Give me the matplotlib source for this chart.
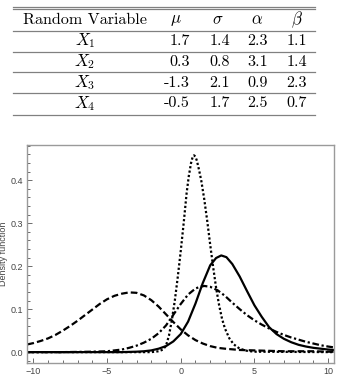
import numpy as np
import matplotlib
matplotlib.use('Agg')
import matplotlib.pyplot as plt
from matplotlib.ticker import MultipleLocator

plt.rcParams['mathtext.fontset'] = 'cm'
plt.rcParams['font.family'] = ['Liberation Sans', 'DejaVu Sans']

# table contents
row_names = [r'$X_1$', r'$X_2$', r'$X_3$', r'$X_4$']
col_names = [r'$\mu$', r'$\sigma$', r'$\alpha$', r'$\beta$']
mu = ['1.7', '0.3', '-1.3', '-0.5']
sigma = ['1.4', '0.8', '2.1', '1.7']
alpha = ['2.3', '3.1', '0.9', '2.5']
beta = ['1.1', '1.4', '2.3', '0.7']

# density curves
x_solid = [-10.4, -4, -3, -2.5, -2, -1.5, -1, -0.5, 0, 0.5, 1, 1.5, 2, 2.4, 2.75, 3.1,
           3.5, 4, 4.5, 5, 5.5, 6, 6.5, 7, 7.5, 8, 8.5, 9, 9.5, 10, 10.4]
y_solid = [0, 0, 0.001, 0.002, 0.004, 0.008, 0.014, 0.025, 0.042, 0.071, 0.113, 0.161,
           0.202, 0.219, 0.225, 0.221, 0.205, 0.176, 0.142, 0.109, 0.082, 0.058, 0.042,
           0.031, 0.023, 0.017, 0.013, 0.010, 0.008, 0.006, 0.005]

x_dot = [-10.4, -2, -1.5, -1.2, -1.0, -0.8, -0.6, -0.4, -0.2, 0, 0.2, 0.4, 0.55, 0.7,
         0.8, 0.9, 1.0, 1.1, 1.25, 1.4, 1.6, 1.8, 2.0, 2.2, 2.4, 2.6, 2.8, 3.0, 3.3, 3.6,
         4.0, 4.5, 5, 10.4]
y_dot = [0, 0, 0.002, 0.006, 0.015, 0.038, 0.075, 0.12, 0.175, 0.235, 0.30, 0.37, 0.41,
         0.44, 0.453, 0.458, 0.455, 0.445, 0.423, 0.398, 0.355, 0.305, 0.25, 0.198,
         0.150, 0.110, 0.078, 0.055, 0.032, 0.018, 0.008, 0.003, 0.001, 0]

x_dash = [-10.4, -10, -9.5, -9, -8.5, -8, -7.5, -7, -6.5, -6, -5.5, -5, -4.5, -4, -3.5,
          -3, -2.5, -2, -1.5, -1, -0.5, 0, 0.5, 1, 1.5, 2, 2.5, 3, 4, 5, 6, 7, 8, 9,
          10, 10.4]
y_dash = [0.018, 0.021, 0.026, 0.032, 0.040, 0.050, 0.061, 0.073, 0.086, 0.099, 0.112,
          0.123, 0.131, 0.136, 0.139, 0.138, 0.132, 0.121, 0.106, 0.088, 0.070, 0.053,
          0.039, 0.028, 0.020, 0.014, 0.010, 0.008, 0.005, 0.004, 0.003, 0.002, 0.002,
          0.002, 0.001, 0.001]

x_dashdot = [-10.4, -8, -6, -5, -4.5, -4, -3.5, -3, -2.5, -2, -1.5, -1, -0.5, 0, 0.5,
             1, 1.3, 1.6, 2, 2.5, 3, 3.5, 4, 4.5, 5, 5.5, 6, 6.5, 7, 7.5, 8, 8.5, 9,
             9.5, 10, 10.4]
y_dashdot = [0, 0, 0.001, 0.002, 0.004, 0.006, 0.010, 0.015, 0.022, 0.031, 0.044, 0.062,
             0.087, 0.112, 0.134, 0.148, 0.152, 0.154, 0.152, 0.144, 0.131, 0.115, 0.100,
             0.086, 0.074, 0.064, 0.055, 0.047, 0.040, 0.034, 0.029, 0.024, 0.020, 0.016,
             0.013, 0.011]

fig = plt.figure(figsize=(3.58, 3.82), dpi=100)

# table drawn in pixel coordinates
tab = fig.add_axes([0, 0, 1, 1])
tab.set_xlim(0, 358)
tab.set_ylim(382, 0)
tab.axis('off')
rule_c = '#808080'
for yy in [6.7, 9.4, 31, 51.7, 72.3, 93.3, 115]:
    tab.plot([13, 315], [yy, yy], color=rule_c, lw=0.9)

fs = 11.6
tab.text(85, 20, 'Random Variable', family='cmr10', fontsize=fs, ha='center', va='center')
for cx, name in zip([176, 218, 257, 297], col_names):
    tab.text(cx, 20, name, fontsize=fs + 0.5, ha='center', va='center')
row_y = [41, 62, 83, 103.5]
for ry, rn, a, b, c, d in zip(row_y, row_names, mu, sigma, alpha, beta):
    tab.text(85, ry, rn, fontsize=fs + 0.5, ha='center', va='center')
    for rx, v in zip([190, 230, 268, 307], [a, b, c, d]):
        tab.text(rx, ry, v, family='cmr10', fontsize=fs, ha='right', va='center')

# density plot
ax = fig.add_axes([27 / 358, 1 - 363.3 / 382, 307 / 358, 218.3 / 382])
ax.plot(x_solid, y_solid, color='black', lw=1.6, ls='-')
ax.plot(x_dot, y_dot, color='black', lw=1.6, ls=(0, (1, 1.0)))
ax.plot(x_dash, y_dash, color='black', lw=1.6, ls=(0, (3.0, 1.4)))
ax.plot(x_dashdot, y_dashdot, color='black', lw=1.6, ls=(0, (3.0, 1.2, 1, 1.2)))

ax.set_xlim(-10.43, 10.4)
ax.set_ylim(-0.026, 0.482)
ax.xaxis.set_major_locator(MultipleLocator(5))
ax.xaxis.set_minor_locator(MultipleLocator(1))
ax.yaxis.set_major_locator(MultipleLocator(0.1))
ax.yaxis.set_minor_locator(MultipleLocator(0.02))
ax.yaxis.set_major_formatter(matplotlib.ticker.FormatStrFormatter('%.1f'))

frame_c = '#9a9a9a'
for s in ax.spines.values():
    s.set_color(frame_c)
    s.set_linewidth(1.0)
ax.tick_params(which='both', direction='in', color='#555555', labelcolor='#444444',
               labelsize=6.5, top=False, right=False, width=0.6)
ax.tick_params(which='major', length=3.5, pad=3)
ax.tick_params(which='minor', length=2)
ax.set_ylabel('Density function', fontsize=6.5, color='#444444', labelpad=2)

fig.savefig('out.png', dpi=100)
